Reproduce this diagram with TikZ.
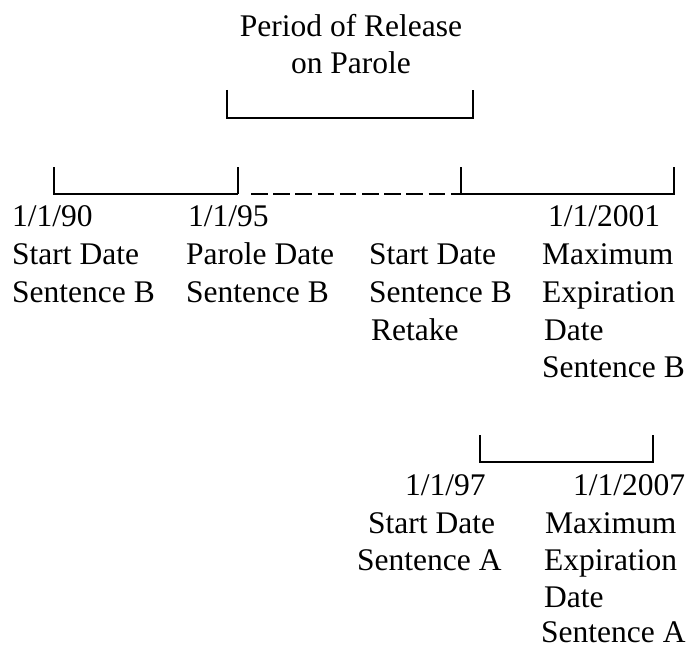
\documentclass[tikz,border=0pt]{standalone}
\usepackage{fontspec}
\setmainfont{Liberation Serif}
\begin{document}
\begin{tikzpicture}[x=1pt,y=-1pt,
  lbl/.style={anchor=base west,inner sep=0pt,font=\fontsize{31.5}{37}\selectfont},
  ttl/.style={anchor=base,inner sep=0pt,font=\fontsize{31.5}{37}\selectfont},
  bar/.style={line width=1.8pt,line cap=butt},
  dashbar/.style={bar,dash pattern=on 16.5pt off 5.7pt,shorten <=13pt}]
\useasboundingbox (0,0) rectangle (688,650);
% title
\node[ttl] (t1) at (351,37) {Period of Release};
\node[ttl] (t2) at (351,74) {on Parole};
% top bracket
\coordinate (pl) at (227,90);
\coordinate (plb) at (227,118);
\coordinate (prb) at (473,118);
\coordinate (pr) at (473,90);
\draw[bar] (pl) -- (plb) -- (prb) -- (pr);
% main timeline
\coordinate (a) at (54,167);  \coordinate (ab) at (54,194);
\coordinate (b) at (238,167); \coordinate (bb) at (238,194);
\coordinate (c) at (461,167); \coordinate (cb) at (461,194);
\coordinate (d) at (674,167); \coordinate (db) at (674,194);
\draw[bar] (a) -- (ab) -- (bb);
\draw[bar] (b) -- (bb);
\draw[dashbar] (bb) -- (cb);
\draw[bar] (c) -- (cb) -- (db) -- (d);
% column 1
\node[lbl] (a1) at (12,226) {1/1/90};
\node[lbl] (a2) at (12,264) {Start Date};
\node[lbl] (a3) at (12,302) {Sentence B};
% column 2
\node[lbl] (b1) at (188,226) {1/1/95};
\node[lbl] (b2) at (186,264) {Parole Date};
\node[lbl] (b3) at (186,302) {Sentence B};
% column 3
\node[lbl] (c2) at (369,264) {Start Date};
\node[lbl] (c3) at (369,302) {Sentence B};
\node[lbl] (c4) at (371,340) {Retake};
% column 4
\node[lbl] (d1) at (548,226) {1/1/2001};
\node[lbl] (d2) at (542,264) {Maximum};
\node[lbl] (d3) at (542,302) {Expiration};
\node[lbl] (d4) at (544,340) {Date};
\node[lbl] (d5) at (542,377) {Sentence B};
% lower bracket
\coordinate (e) at (480,435);  \coordinate (eb) at (480,462);
\coordinate (f) at (653,435);  \coordinate (fb) at (653,462);
\draw[bar] (e) -- (eb) -- (fb) -- (f);
% sentence A labels
\node[lbl] (e1) at (405,495) {1/1/97};
\node[lbl] (e2) at (368,533) {Start Date};
\node[lbl] (e3) at (357,570) {Sentence A};
\node[lbl] (f1) at (573,495) {1/1/2007};
\node[lbl] (f2) at (545,533) {Maximum};
\node[lbl] (f3) at (544,570) {Expiration};
\node[lbl] (f4) at (544,607) {Date};
\node[lbl] (f5) at (541,642) {Sentence A};
\end{tikzpicture}
\end{document}
